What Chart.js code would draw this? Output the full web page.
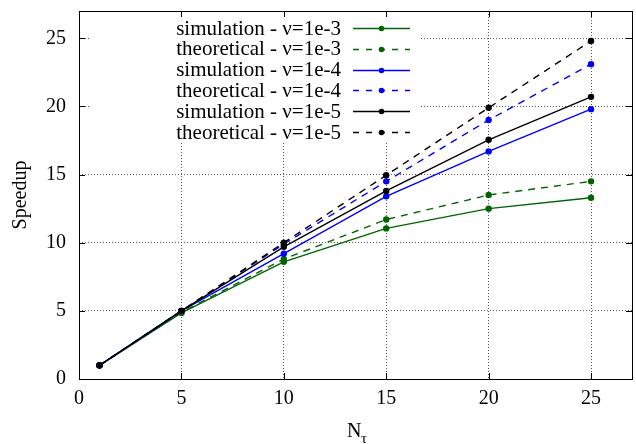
<!DOCTYPE html>
<html>
<head>
<meta charset="utf-8">
<script src="https://cdn.jsdelivr.net/npm/chart.js@4.4.1/dist/chart.umd.min.js"></script>
<style>
  html, body { margin: 0; padding: 0; background: #fff; }
</style>
</head>
<body>
<canvas id="speedupChart" width="636" height="444"></canvas>
<script>
// N_tau values and measured / theoretical speedups
const nTau = [1, 5, 10, 15, 20, 25];
const sim1e3 = [1, 4.85, 8.6, 11.05, 12.5, 13.3];
const theo1e3 = [1, 4.9, 8.8, 11.7, 13.5, 14.5];
const sim1e4 = [1, 5.0, 9.2, 13.4, 16.7, 19.8];
const theo1e4 = [1, 5.0, 9.9, 14.5, 19.0, 23.1];
const sim1e5 = [1, 5.0, 9.7, 13.8, 17.55, 20.7];
const theo1e5 = [1, 5.0, 10.0, 14.95, 19.9, 24.8];

const xTicks = [0, 5, 10, 15, 20, 25];
const yTicks = [0, 5, 10, 15, 20, 25];

const seriesLabels = [
    'simulation - \u03bd=1e-3',
    'theoretical - \u03bd=1e-3',
    'simulation - \u03bd=1e-4',
    'theoretical - \u03bd=1e-4',
    'simulation - \u03bd=1e-5',
    'theoretical - \u03bd=1e-5'
];

const GREEN = '#006400';
const BLUE = '#0000ff';
const BLACK = '#000000';
const SERIF = '"Liberation Serif", "DejaVu Serif", serif';
const DASH = [7, 6];

function pts(ys) {
    return nTau.map((x, i) => ({ x: x, y: ys[i] }));
}

function series(i, ys, color, dashed) {
    return {
        label: seriesLabels[i],
        data: pts(ys),
        borderColor: color,
        backgroundColor: color,
        borderWidth: 1.4,
        borderDash: dashed ? DASH : [],
        pointRadius: 3.2,
        pointBorderWidth: 0,
        pointBackgroundColor: color,
        tension: 0,
        order: 6 - i
    };
}

const datasets = [
    series(0, sim1e3, GREEN, false),
    series(1, theo1e3, GREEN, true),
    series(2, sim1e4, BLUE, false),
    series(3, theo1e4, BLUE, true),
    series(4, sim1e5, BLACK, false),
    series(5, theo1e5, BLACK, true)
];

// gnuplot-like frame, inward ticks, opaque key and axis titles
const gnuFrame = {
    id: 'gnuFrame',

    beforeDatasetsDraw(chart) {
        const ctx = chart.ctx;
        ctx.save();
        ctx.fillStyle = '#ffffff';
        ctx.fillRect(91, 12, 330, 131);
        ctx.restore();
    },

    afterDraw(chart) {
        const ctx = chart.ctx;
        const a = chart.chartArea;
        const xs = chart.scales.x;
        const ys = chart.scales.y;
        const tl = 6;

        ctx.save();
        ctx.strokeStyle = '#000';
        ctx.lineWidth = 1;
        ctx.setLineDash([]);

        ctx.beginPath();
        xTicks.forEach(v => {
            const px = Math.round(xs.getPixelForValue(v)) + 0.5;
            ctx.moveTo(px, a.bottom);
            ctx.lineTo(px, a.bottom - tl);
            ctx.moveTo(px, a.top);
            ctx.lineTo(px, a.top + tl);
        });
        yTicks.forEach(v => {
            const py = Math.round(ys.getPixelForValue(v)) + 0.5;
            ctx.moveTo(a.left, py);
            ctx.lineTo(a.left + tl, py);
            ctx.moveTo(a.right, py);
            ctx.lineTo(a.right - tl, py);
        });
        ctx.stroke();

        ctx.strokeRect(Math.round(a.left) + 0.5, Math.round(a.top) + 0.5,
            Math.round(a.right - a.left), Math.round(a.bottom - a.top));

        // key
        ctx.font = '21px ' + SERIF;
        ctx.textAlign = 'right';
        ctx.textBaseline = 'middle';
        datasets.forEach((ds, i) => {
            const y = 28 + i * 20.8;
            ctx.fillStyle = '#000';
            ctx.fillText(ds.label, 341, y + 1);
            ctx.strokeStyle = ds.borderColor;
            ctx.lineWidth = 1.4;
            ctx.setLineDash(ds.borderDash.length ? [6, 7] : []);
            ctx.beginPath();
            ctx.moveTo(353, Math.round(y) + 0.5);
            ctx.lineTo(410, Math.round(y) + 0.5);
            ctx.stroke();
            ctx.setLineDash([]);
            ctx.fillStyle = ds.borderColor;
            ctx.beginPath();
            ctx.arc(381.5, Math.round(y) + 0.5, 2.8, 0, Math.PI * 2);
            ctx.fill();
        });

        // axis titles
        ctx.fillStyle = '#000';
        ctx.textAlign = 'center';
        ctx.textBaseline = 'middle';
        ctx.font = '20px ' + SERIF;
        ctx.save();
        ctx.translate(21, 195);
        ctx.rotate(-Math.PI / 2);
        ctx.fillText('Speedup', 0, 0);
        ctx.restore();

        ctx.textAlign = 'left';
        ctx.textBaseline = 'alphabetic';
        ctx.fillText('N', 347, 437);
        ctx.font = '15px ' + SERIF;
        ctx.fillText('\u03c4', 361, 443);

        ctx.restore();
    }
};

const gridStyle = {
    color: '#555',
    lineWidth: 1,
    drawTicks: false
};

new Chart(document.getElementById('speedupChart'), {

    type: 'line',

    data: { datasets: datasets },

    options: {

        responsive: false,
        animation: false,
        events: [],

        layout: {
            padding: { top: 11, right: 3, left: 0, bottom: 0 }
        },

        plugins: {
            legend: { display: false },
            tooltip: { enabled: false }
        },

        scales: {

            x: {
                type: 'linear',
                min: 0,
                max: 27,
                afterBuildTicks: s => { s.ticks = xTicks.map(v => ({ value: v })); },
                afterFit: s => {
                    s.height = 65;
                    s.paddingLeft = 0;
                    s.paddingRight = 0;
                },
                ticks: {
                    color: '#000',
                    padding: 8,
                    font: { family: SERIF, size: 20 }
                },
                grid: gridStyle,
                border: { display: false, dash: [1, 2] }
            },

            y: {
                min: 0,
                max: 27,
                afterBuildTicks: s => { s.ticks = yTicks.map(v => ({ value: v })); },
                afterFit: s => {
                    s.width = 79;
                    s.paddingTop = 0;
                    s.paddingBottom = 0;
                },
                ticks: {
                    color: '#000',
                    padding: 13,
                    font: { family: SERIF, size: 20 }
                },
                grid: gridStyle,
                border: { display: false, dash: [1, 2] }
            }

        }

    },

    plugins: [gnuFrame]

});
</script>
</body>
</html>
